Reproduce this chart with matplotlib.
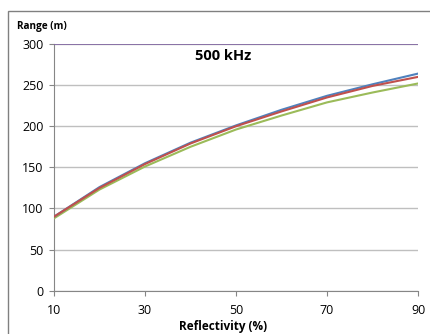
import matplotlib
matplotlib.use("Agg")
import matplotlib.pyplot as plt
from matplotlib.patches import Rectangle

# data
reflectivity = [10, 20, 30, 40, 50, 60, 70, 80, 90]
range_blue = [90, 126, 155, 180, 201, 220, 237, 251, 264]
range_red = [90, 125, 154, 179, 200, 218, 235, 249, 260]
range_green = [88, 123, 151, 175, 196, 213, 229, 241, 252]
range_max = [300, 300, 300, 300, 300, 300, 300, 300, 300]
x_ticks = [10, 30, 50, 70, 90]
y_ticks = [0, 50, 100, 150, 200, 250, 300]
title = "500 kHz"

plt.rcParams['font.family'] = ['Open Sans', 'DejaVu Sans']

W, H = 431, 334
fig = plt.figure(figsize=(W / 100, H / 100), dpi=100)
ax = fig.add_axes([54 / W, 1 - 290.7 / H, 364 / W, 246.7 / H])

# outer chart frame (runs off right/bottom edges)
fig.patches.append(Rectangle((8 / W, -0.05), 1.1, 1 - 11 / H + 0.05,
                             transform=fig.transFigure, fill=False,
                             edgecolor='#808080', linewidth=1.0))

lw = 1.5
ax.plot(reflectivity, range_max, color='#8064A2', lw=1.2, zorder=3)
ax.plot(reflectivity, range_green, color='#9BBB59', lw=lw, zorder=3)
ax.plot(reflectivity, range_blue, color='#4F81BD', lw=lw, zorder=4)
ax.plot(reflectivity, range_red, color='#C0504D', lw=lw, zorder=5)

ax.set_xlim(10, 90)
ax.set_ylim(0, 300)
ax.set_xticks(x_ticks)
ax.set_yticks(y_ticks)
ax.tick_params(axis='both', labelsize=9, color='#868686', length=3.5,
               width=0.8, pad=4)
ax.tick_params(axis='x', pad=6)
ax.grid(axis='y', color='#BFBFBF', linewidth=1.0)
ax.set_axisbelow(True)
for s in ['top', 'right']:
    ax.spines[s].set_visible(False)
for s in ['left', 'bottom']:
    ax.spines[s].set_color('#868686')
    ax.spines[s].set_linewidth(0.8)

fig.text(17 / W, 1 - 27 / H, "Range (m)", fontsize=7.2, fontweight='bold',
         ha='left', va='center')
fig.text(223 / W, 1 - 56.5 / H, title, fontsize=10.5, fontweight='bold',
         ha='center', va='center')
fig.text(223 / W, 1 - 326.5 / H, "Reflectivity (%)", fontsize=8.5,
         fontweight='bold', ha='center', va='center')

fig.savefig("out.png", dpi=100)
